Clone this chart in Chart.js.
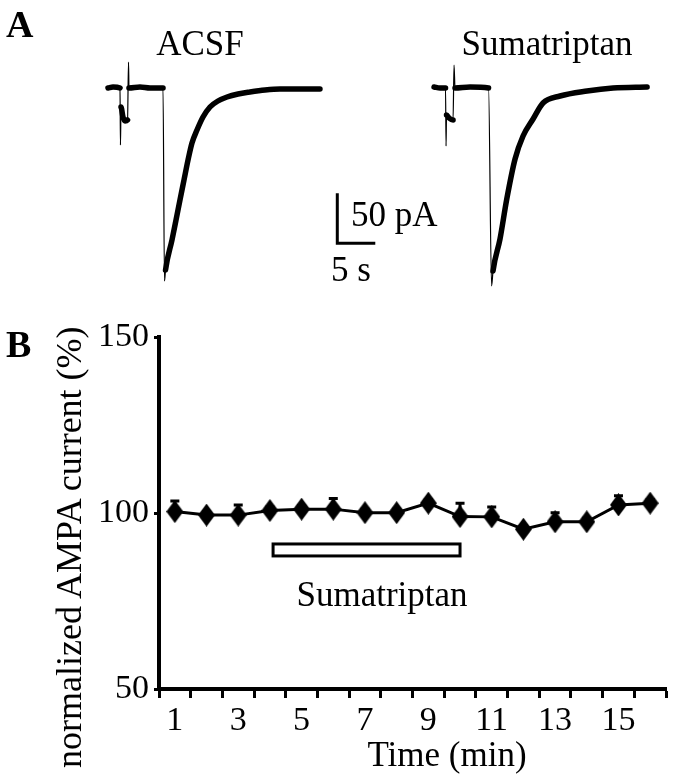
<!DOCTYPE html>
<html><head><meta charset="utf-8">
<script src="https://cdn.jsdelivr.net/npm/chart.js@4.4.0/dist/chart.umd.min.js"></script>
<style>
html,body{margin:0;padding:0;background:#fff;}
#page{position:relative;width:679px;height:781px;overflow:hidden;background:#fff;}
canvas{position:absolute;left:0;}
.t{position:absolute;font-family:'Liberation Serif','Times New Roman',serif;color:#000;white-space:nowrap;line-height:1;}
.c{transform:translateX(-50%);}
.b{font-weight:bold;font-size:38px;}
.m{font-size:35px;}
</style></head><body>
<div id="page">
<canvas id="traces" width="679" height="300" style="top:0;width:679px;height:300px"></canvas>
<canvas id="summary" width="679" height="481" style="top:300px;width:679px;height:481px"></canvas>
<div class="t b" style="left:6px;top:5px">A</div>
<div class="t m c" style="left:200px;top:26px">ACSF</div>
<div class="t m c" style="left:547px;top:26px">Sumatriptan</div>
<div class="t m" style="left:351px;top:197px">50 pA</div>
<div class="t m" style="left:331px;top:252px">5 s</div>
<div class="t b" style="left:6px;top:325px">B</div>
<div class="t m c" style="left:382px;top:577px">Sumatriptan</div>
<div class="t m c" style="left:447px;top:737px">Time (min)</div>
<div class="t" style="left:51px;top:768px;font-size:36px;transform:rotate(-90deg);transform-origin:0 0">normalized AMPA current (%)</div>
</div>
<script>
// ---------- Panel A: example AMPA current traces (time in s, current in pA) ----------
const acsfTime    = [0, 0.66, 1.58, 1.64, 1.71, 1.97, 2.24, 2.57, 2.70, 2.76, 4.21, 5.53, 7.24, 7.43, 7.57, 8.42, 8.95, 9.47, 10.0, 10.53, 11.05, 11.71, 12.5, 13.42, 14.47, 15.66, 17.11, 18.68, 20.66, 22.63, 25.26, 27.89];
const acsfCurrent = [0, 1, 0, -57, -19, -29, -33, -32, 26, 0, 1, 0, 0, -193, -182, -152, -132, -112, -92, -72, -55, -42, -29, -19, -13, -9, -6, -4, -2, -1, -1, -1];
const sumaTime    = [0, 0.79, 1.51, 1.58, 1.64, 1.97, 2.50, 2.63, 2.76, 4.74, 7.17, 7.57, 7.76, 8.68, 9.57, 10.66, 11.71, 13.03, 14.34, 16.58, 20.13, 23.55, 28.03];
const sumaCurrent = [1, 0, 0, -58, -27, -30, -32, 23, 0, 1, 0, -198, -183, -151, -111, -71, -48, -31, -15, -8, -3, 0, 1];
const scaleBarTime = 5;      // s
const scaleBarCurrent = 50;  // pA

// ---------- Panel B: normalized AMPA current over time ----------
const minutes = ['1','2','3','4','5','6','7','8','9','10','11','12','13','14','15','16'];
const xTickLabels = ['1','3','5','7','9','11','13','15'];
const ampa    = [100.4, 99.4, 99.4, 100.7, 101.1, 101.1, 100.1, 100.1, 102.8, 99.0, 98.9, 95.4, 97.5, 97.5, 102.3, 102.8];
const ampaSem = [3.0, 1.0, 2.9, 1.0, 1.0, 3.0, 1.0, 1.0, 1.0, 3.8, 2.8, 1.0, 2.6, 1.0, 2.6, 1.0];
const yTicks  = [50, 100, 150];
const drugStartMin = 4.1, drugEndMin = 10.0;   // sumatriptan application (min)
const drugBarTop = 91.2, drugBarBottom = 87.8; // bar drawn between these y values

// layout constants (not data)
const TRACE2_OFFSET = 42.9; // s, horizontal placement of second trace
const SCALE_BAR_AT = {t: 30.17, i: -155.3};
const FONT = "'Liberation Serif','Times New Roman',serif";

const pts = (ts, is, off) => ts.map((t, k) => ({x: t + (off||0), y: is[k]}));
const thinSteep = c => {
  const dx = Math.abs(c.p1.x - c.p0.x), dy = Math.abs(c.p1.y - c.p0.y);
  return (dy > 8 && dy > 6 * dx) ? 1.2 : 5.5;
};
const traceStyle = {showLine: true, borderColor: '#000', borderWidth: 5.5, pointRadius: 0,
  cubicInterpolationMode: 'monotone',
  borderJoinStyle: 'round', borderCapStyle: 'round', segment: {borderWidth: thinSteep}};

new Chart(document.getElementById('traces'), {
  type: 'scatter',
  data: {datasets: [
    Object.assign({data: pts(acsfTime, acsfCurrent)}, traceStyle),
    Object.assign({data: pts(sumaTime, sumaCurrent, TRACE2_OFFSET)}, traceStyle),
    {data: [
      {x: SCALE_BAR_AT.t, y: SCALE_BAR_AT.i + scaleBarCurrent},
      {x: SCALE_BAR_AT.t, y: SCALE_BAR_AT.i},
      {x: SCALE_BAR_AT.t + scaleBarTime, y: SCALE_BAR_AT.i}],
     showLine: true, borderColor: '#000', borderWidth: 3, pointRadius: 0, borderJoinStyle: 'miter'}
  ]},
  options: {
    responsive: false, animation: false, devicePixelRatio: 1,
    layout: {padding: 0},
    plugins: {legend: {display: false}, tooltip: {enabled: false}},
    scales: {
      x: {type: 'linear', display: false, min: -14.21, max: 75.13},
      y: {type: 'linear', display: false, min: -212, max: 88}
    }
  }
});

// diamond marker
const diamond = document.createElement('canvas');
diamond.width = 17; diamond.height = 23;
(() => { const g = diamond.getContext('2d'); g.fillStyle = '#000'; g.beginPath();
  g.moveTo(8.5, 0); g.lineTo(17, 11.5); g.lineTo(8.5, 23); g.lineTo(0, 11.5); g.closePath(); g.fill(); })();

const errorBars = {
  id: 'errorBars',
  afterDatasetsDraw(chart) {
    const {ctx, scales: {x, y}} = chart;
    ctx.save(); ctx.strokeStyle = '#000'; ctx.lineWidth = 3;
    ampa.forEach((v, i) => {
      const px = x.getPixelForValue(i), py = y.getPixelForValue(v), pt = y.getPixelForValue(v + ampaSem[i]);
      ctx.beginPath(); ctx.moveTo(px, py); ctx.lineTo(px, pt);
      ctx.moveTo(px - 4.5, pt); ctx.lineTo(px + 4.5, pt); ctx.stroke();
    });
    ctx.restore();
  }
};
const drugBar = {
  id: 'drugBar',
  afterDraw(chart) {
    const {ctx, scales: {x, y}} = chart;
    const x0 = x.getPixelForValue(drugStartMin - 1), x1 = x.getPixelForValue(drugEndMin - 1);
    const y0 = y.getPixelForValue(drugBarTop), y1 = y.getPixelForValue(drugBarBottom);
    ctx.save(); ctx.fillStyle = '#fff'; ctx.strokeStyle = '#000'; ctx.lineWidth = 3;
    ctx.fillRect(x0, y0, x1 - x0, y1 - y0); ctx.strokeRect(x0, y0, x1 - x0, y1 - y0);
    ctx.restore();
  }
};

new Chart(document.getElementById('summary'), {
  type: 'line',
  data: {labels: minutes, datasets: [{
    data: ampa, borderColor: '#000', backgroundColor: '#000', borderWidth: 3,
    pointStyle: diamond, pointRadius: 10, tension: 0
  }]},
  options: {
    responsive: false, animation: false, devicePixelRatio: 1,
    layout: {padding: {top: 37, right: 11, left: 0, bottom: 0}},
    plugins: {legend: {display: false}, tooltip: {enabled: false}},
    scales: {
      x: {
        type: 'category', offset: true,
        grid: {offset: true, drawOnChartArea: false, drawTicks: true, tickLength: 9, tickWidth: 3, tickColor: '#000'},
        border: {display: true, width: 4, color: '#000'},
        ticks: {autoSkip: false, maxRotation: 0, color: '#000', padding: 3,
          font: {family: FONT, size: 34},
          callback(v, i) { const l = minutes[i]; return xTickLabels.includes(l) ? l : ''; }},
        afterFit(s) { s.height = 92; }
      },
      y: {
        type: 'linear', min: yTicks[0], max: yTicks[yTicks.length - 1],
        afterBuildTicks(s) { s.ticks = yTicks.map(v => ({value: v})); },
        grid: {drawOnChartArea: false, drawTicks: true, tickLength: 5, tickWidth: 3, tickColor: '#000'},
        border: {display: true, width: 4, color: '#000'},
        ticks: {color: '#000', padding: 5, font: {family: FONT, size: 34}},
        afterFit(s) { s.width = 159; }
      }
    }
  },
  plugins: [errorBars, drugBar]
});
</script>
</body></html>
